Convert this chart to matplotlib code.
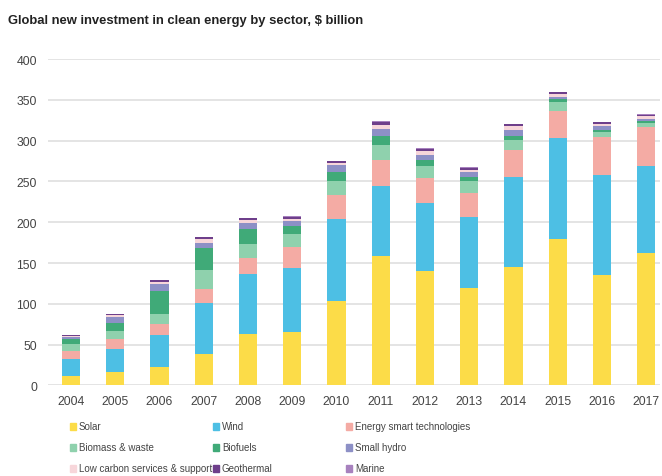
import matplotlib.pyplot as plt
import numpy as np
from matplotlib.patches import Rectangle

years = ['2004', '2005', '2006', '2007', '2008', '2009', '2010',
         '2011', '2012', '2013', '2014', '2015', '2016', '2017']

sectors = ['Solar', 'Wind', 'Energy smart technologies',
           'Biomass & waste', 'Biofuels', 'Small hydro',
           'Low carbon services & support', 'Geothermal', 'Marine']

solar = [11.5, 16.3, 22.4, 38.6, 62.8, 65.0, 103.0, 158.4, 140.3, 119.5, 145.0, 179.0, 135.5, 161.7]
wind = [20.5, 28.5, 39.6, 62.0, 73.7, 79.0, 101.5, 86.6, 82.7, 86.5, 110.6, 124.6, 122.5, 106.8]
energy_smart = [10.0, 11.7, 13.0, 17.4, 19.5, 26.0, 29.5, 31.0, 31.5, 30.0, 33.4, 32.4, 46.0, 48.5]
biomass = [8.5, 10.3, 12.5, 23.5, 17.0, 15.5, 17.0, 19.0, 14.3, 14.0, 12.0, 11.0, 7.0, 5.0]
biofuels = [6.0, 9.2, 28.5, 27.3, 18.5, 9.5, 10.5, 10.5, 7.2, 5.5, 5.0, 3.5, 1.8, 2.0]
small_hydro = [2.5, 7.5, 8.0, 6.2, 7.5, 6.0, 8.2, 8.2, 6.0, 6.2, 7.5, 3.2, 4.9, 3.0]
low_carbon = [1.5, 2.5, 3.0, 5.0, 4.0, 3.0, 2.5, 4.9, 5.0, 2.8, 4.1, 3.7, 2.9, 3.0]
geothermal = [1.5, 1.5, 2.0, 1.5, 2.0, 3.0, 2.3, 4.5, 3.0, 2.5, 2.9, 2.0, 2.4, 2.0]
marine = [0.3, 0.5, 0.5, 0.8, 0.8, 0.5, 0.5, 0.6, 0.7, 0.5, 0.5, 0.6, 0.5, 0.5]

series = [solar, wind, energy_smart, biomass, biofuels, small_hydro,
          low_carbon, geothermal, marine]
colors = ['#fcdc48', '#4dbfe4', '#f4aba4', '#8fd1ad', '#40aa78', '#8d90c6',
          '#f7d6da', '#6e3f8b', '#a781be']

plt.rcParams['font.family'] = ['Liberation Sans', 'DejaVu Sans']

fig = plt.figure(figsize=(6.62, 4.77), dpi=100)
ax = fig.add_axes([0.0725, 0.19, 0.925, 0.684])

x = np.arange(len(years))
bottom = np.zeros(len(years))
for vals, col, name in zip(series, colors, sectors):
    ax.bar(x, vals, width=0.41, bottom=bottom, color=col, label=name, zorder=3)
    bottom += np.array(vals)

ax.set_ylim(0, 400)
ax.set_xlim(-0.52, 13.32)
ax.set_yticks(range(0, 401, 50))
ax.set_xticks(x)
ax.set_xticklabels(years)
ax.grid(axis='y', color='#e2e2e2', linewidth=1.3, zorder=0)
for s in ax.spines.values():
    s.set_visible(False)
ax.tick_params(length=0, labelsize=8.8, labelcolor='#444444')
ax.tick_params(axis='y', pad=8)
ax.tick_params(axis='x', pad=7)

fig.text(0.012, 0.955, 'Global new investment in clean energy by sector, $ billion',
         fontsize=9.4, fontweight='bold', color='#222222',
         va='center', ha='left')

# legend, 3 columns laid out by hand
col_x = [70, 213, 346]
row_y = [427, 448, 469]
W, H = 662.0, 477.0
for i, (name, col) in enumerate(zip(sectors, colors)):
    r, c = divmod(i, 3)
    px, py = col_x[c], row_y[r]
    fig.patches.append(Rectangle((px / W, 1 - (py + 3.5) / H), 6 / W, 7 / H,
                                 transform=fig.transFigure, color=col))
    fig.text((px + 9) / W, 1 - py / H, name, fontsize=7.0, color='#444444',
             va='center', ha='left')

fig.savefig('out.png', dpi=100)
